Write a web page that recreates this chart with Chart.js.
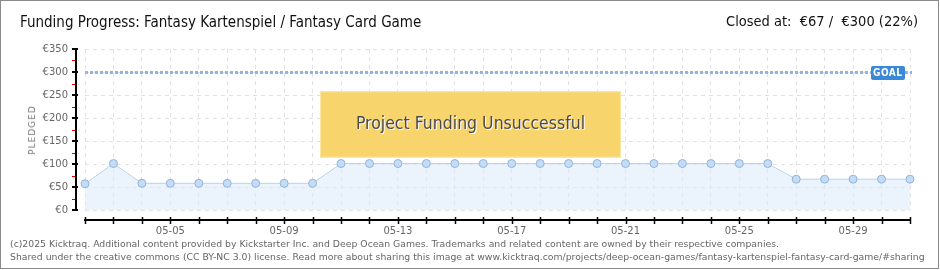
<!DOCTYPE html>
<html lang="en">
<head>
    <meta charset="UTF-8">
    <title>Funding Progress: Fantasy Kartenspiel / Fantasy Card Game</title>
    <script src="https://cdn.jsdelivr.net/npm/chart.js"></script>
    <style>
        body {
            margin: 0;
            background: #fff;
            width: 940px;
            height: 270px;
            overflow: hidden;
        }

        .frame {
            position: absolute;
            left: 0;
            top: 0;
            width: 937px;
            height: 267px;
            border: 1px solid #8a8a8a;
            pointer-events: none;
        }

        #chart-wrap {
            position: absolute;
            left: 0;
            top: 0;
            width: 940px;
            height: 270px;
        }

        .title, .closed {
            position: absolute;
            top: 13px;
            font-family: "DejaVu Sans Condensed", "DejaVu Sans", sans-serif;
            font-size: 15px;
            color: #111;
            white-space: nowrap;
        }

        .title { left: 20px; }
        .closed { right: 22px; font-size: 14.5px; }

        .pledged {
            position: absolute;
            left: 32px;
            top: 130px;
            transform: translate(-50%, -50%) rotate(-90deg);
            font-family: "DejaVu Sans", sans-serif;
            font-size: 9px;
            letter-spacing: 1px;
            color: #777;
            white-space: nowrap;
        }

        .footer {
            position: absolute;
            left: 10px;
            top: 237px;
            font-family: "DejaVu Sans", sans-serif;
            font-size: 9.3px;
            line-height: 13px;
            color: #666;
            white-space: nowrap;
        }
    </style>
</head>
<body>
    <div id="chart-wrap"><canvas id="fundingChart" width="940" height="270"></canvas></div>
    <div class="title">Funding Progress: Fantasy Kartenspiel / Fantasy Card Game</div>
    <div class="closed">Closed at:&nbsp; €67 /&nbsp; €300 (22%)</div>
    <div class="pledged">PLEDGED</div>
    <div class="footer">
        (c)2025 Kicktraq. Additional content provided by Kickstarter Inc. and Deep Ocean Games. Trademarks and related content are owned by their respective companies.<br>
        Shared under the creative commons (CC BY-NC 3.0) license. Read more about sharing this image at www.kicktraq.com/projects/deep-ocean-games/fantasy-kartenspiel-fantasy-card-game/#sharing
    </div>
    <div class="frame"></div>

    <script>
        // data
        const dates = ['05-02', '05-03', '05-04', '05-05', '05-06', '05-07', '05-08', '05-09', '05-10', '05-11',
                       '05-12', '05-13', '05-14', '05-15', '05-16', '05-17', '05-18', '05-19', '05-20', '05-21',
                       '05-22', '05-23', '05-24', '05-25', '05-26', '05-27', '05-28', '05-29', '05-30', '05-31'];
        const pledged = [57, 101, 58, 58, 58, 58, 58, 58, 58, 101,
                         101, 101, 101, 101, 101, 101, 101, 101, 101, 101,
                         101, 101, 101, 101, 101, 67, 67, 67, 67, 67];
        const yTicks = [0, 50, 100, 150, 200, 250, 300, 350];
        const goal = 300;
        const bannerText = 'Project Funding Unsuccessful';

        // axes, goal line and the banner drawn around the chart
        const extras = {
            id: 'extras',
            beforeDatasetsDraw(chart) {
                const ctx = chart.ctx;
                const y = chart.scales.y;
                const area = chart.chartArea;

                // goal line
                const gy = Math.round(y.getPixelForValue(goal)) + 0.5;
                ctx.save();
                ctx.strokeStyle = '#8fb5e4';
                ctx.lineWidth = 3;
                ctx.setLineDash([3, 2]);
                ctx.beginPath();
                ctx.moveTo(area.left, gy);
                ctx.lineTo(area.right + 2, gy);
                ctx.stroke();
                ctx.restore();
            },
            afterDatasetsDraw(chart) {
                const ctx = chart.ctx;
                const x = chart.scales.x;
                const y = chart.scales.y;
                const area = chart.chartArea;

                // y axis line with ticks
                const ax = 76;
                ctx.save();
                ctx.strokeStyle = '#000';
                ctx.lineWidth = 2;
                ctx.beginPath();
                ctx.moveTo(ax, y.getPixelForValue(350) - 1);
                ctx.lineTo(ax, y.getPixelForValue(0) + 1);
                ctx.stroke();
                yTicks.forEach(v => {
                    const py = Math.round(y.getPixelForValue(v));
                    ctx.beginPath();
                    ctx.moveTo(ax - 4, py);
                    ctx.lineTo(ax + 2, py);
                    ctx.stroke();
                });
                ctx.strokeStyle = '#e00000';
                ctx.lineWidth = 1;
                for (let v = 25; v < 350; v += 50) {
                    const py = Math.round(y.getPixelForValue(v)) + 0.5;
                    ctx.beginPath();
                    ctx.moveTo(ax - 4, py);
                    ctx.lineTo(ax - 1, py);
                    ctx.stroke();
                }

                // x axis line with ticks
                const ay = 220;
                ctx.strokeStyle = '#000';
                ctx.lineWidth = 2;
                ctx.beginPath();
                ctx.moveTo(area.left - 1, ay);
                ctx.lineTo(area.right + 1, ay);
                ctx.stroke();
                ctx.lineWidth = 1.5;
                dates.forEach((d, i) => {
                    const px = Math.round(x.getPixelForValue(i)) + 0.5;
                    ctx.beginPath();
                    ctx.moveTo(px, ay - 3);
                    ctx.lineTo(px, ay + 4);
                    ctx.stroke();
                });

                // goal label
                const gy = Math.round(y.getPixelForValue(goal));
                ctx.fillStyle = '#3b88d8';
                ctx.beginPath();
                ctx.roundRect(871, gy - 6, 34, 14, 2);
                ctx.fill();
                ctx.fillStyle = '#fff';
                ctx.font = 'bold 10px "DejaVu Sans Condensed", "DejaVu Sans", sans-serif';
                ctx.letterSpacing = '0.5px';
                ctx.textBaseline = 'middle';
                ctx.textAlign = 'left';
                ctx.fillText('GOAL', 873, gy + 1);
                ctx.letterSpacing = '0px';

                // banner
                const bx = 320, bw = 301;
                const by = y.getPixelForValue(258), bh = y.getPixelForValue(114) - by;
                ctx.fillStyle = '#f8d46c';
                ctx.fillRect(bx, by, bw, bh);
                ctx.strokeStyle = '#fbe6a0';
                ctx.lineWidth = 1;
                ctx.strokeRect(bx + 0.5, by + 0.5, bw - 1, bh - 1);
                ctx.font = '17.5px "DejaVu Sans Condensed", "DejaVu Sans", sans-serif';
                ctx.textAlign = 'center';
                ctx.textBaseline = 'middle';
                ctx.fillStyle = '#fff';
                ctx.fillText(bannerText, bx + bw / 2 + 1, by + bh / 2 + 1);
                ctx.fillStyle = '#4a4a4a';
                ctx.fillText(bannerText, bx + bw / 2, by + bh / 2);
                ctx.restore();
            }
        };

        const ctx = document.getElementById('fundingChart').getContext('2d');
        new Chart(ctx, {
            type: 'line',
            data: {
                labels: dates,
                datasets: [{
                    data: pledged,
                    borderColor: '#b8d3f0',
                    borderWidth: 1,
                    backgroundColor: 'rgba(222, 235, 250, 0.6)',
                    fill: 'origin',
                    tension: 0,
                    pointRadius: 4,
                    pointBackgroundColor: '#c5dcf6',
                    pointBorderColor: '#93b3da',
                    pointBorderWidth: 1
                }]
            },
            options: {
                responsive: false,
                animation: false,
                layout: {
                    padding: { left: 0, top: 49, right: 30, bottom: 0 }
                },
                plugins: {
                    legend: { display: false },
                    tooltip: { enabled: false }
                },
                scales: {
                    x: {
                        offset: false,
                        afterFit: s => { s.height = 60; },
                        border: { display: false, dash: [4, 4] },
                        grid: {
                            color: '#e2e2e2',
                            drawTicks: false
                        },
                        ticks: {
                            autoSkip: false,
                            maxRotation: 0,
                            padding: 15,
                            color: '#666',
                            font: { family: '"DejaVu Sans", sans-serif', size: 10 },
                            callback: (v, i) => (i % 4 === 3 ? dates[i] : '')
                        }
                    },
                    y: {
                        min: 0,
                        max: 350,
                        afterFit: s => { s.width = 85; },
                        afterBuildTicks: s => { s.ticks = yTicks.map(v => ({ value: v })); },
                        border: { display: false, dash: [4, 4] },
                        grid: {
                            color: '#e2e2e2',
                            drawTicks: false
                        },
                        ticks: {
                            padding: 17,
                            color: '#666',
                            font: { family: '"DejaVu Sans", sans-serif', size: 10 },
                            callback: v => '€' + v
                        }
                    }
                }
            },
            plugins: [extras]
        });
    </script>
</body>
</html>
